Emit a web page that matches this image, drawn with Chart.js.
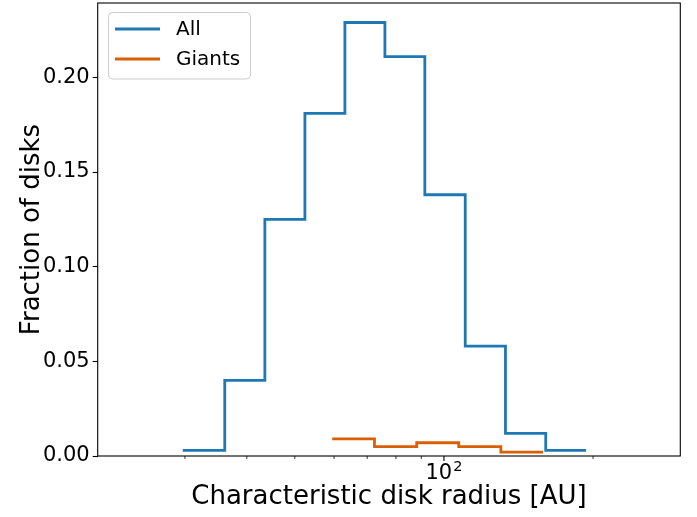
<!DOCTYPE html>
<html lang="en">
<head>
  <meta charset="UTF-8" />
  <title>Characteristic disk radius</title>
  <script src="https://cdn.jsdelivr.net/npm/chart.js"></script>
  <style>
    body { margin: 0; background: #fff; }
    #wrap { width: 697px; height: 517px; }
  </style>
</head>
<body>
  <div id="wrap"><canvas id="radiusChart" width="697" height="517"></canvas></div>
  <script>
    // histogram bin edges (AU) and fractions per bin
    const allEdges = [29.7, 36.1, 43.5, 52.4, 63.1, 76.0, 91.5, 110.4, 133.1, 160.5, 193.6];
    const allFraction = [0.003, 0.040, 0.125, 0.181, 0.229, 0.211, 0.138, 0.058, 0.012, 0.003];
    const giantEdges = [59.5, 72.4, 88.1, 107.1, 130.3, 158.5];
    const giantFraction = [0.009, 0.005, 0.007, 0.005, 0.002];

    const yTicks = [0, 0.05, 0.10, 0.15, 0.20];
    const xMinorTicks = [30, 40, 50, 60, 70, 80, 90, 200];
    const xMajorTicks = [100];

    const FONT = "'DejaVu Sans', sans-serif";

    // step outline: every edge carries the value of the bin it opens, last edge closes the last bin
    function stepPoints(edges, vals) {
      return edges.map((e, i) => ({ x: e, y: vals[Math.min(i, vals.length - 1)] }));
    }

    const decorations = {
      id: 'decorations',
      afterDraw(chart) {
        const ctx = chart.ctx;
        const area = chart.chartArea;
        const xs = chart.scales.x;
        ctx.save();

        // frame
        ctx.strokeStyle = '#000';
        ctx.lineWidth = 1.1;
        ctx.strokeRect(area.left, area.top, area.right - area.left, area.bottom - area.top);

        // x ticks (log axis, minor + major)
        xMinorTicks.forEach(v => {
          const px = xs.getPixelForValue(v);
          ctx.lineWidth = 0.8;
          ctx.beginPath(); ctx.moveTo(px, area.bottom); ctx.lineTo(px, area.bottom + 3); ctx.stroke();
        });
        xMajorTicks.forEach(v => {
          const px = xs.getPixelForValue(v);
          ctx.lineWidth = 1.1;
          ctx.beginPath(); ctx.moveTo(px, area.bottom); ctx.lineTo(px, area.bottom + 5); ctx.stroke();
          // 10^2 label
          const exp = String(Math.round(Math.log10(v)));
          ctx.fillStyle = '#000';
          ctx.textBaseline = 'alphabetic';
          ctx.font = '21px ' + FONT;
          const wBase = ctx.measureText('10').width;
          ctx.font = '14.5px ' + FONT;
          const wExp = ctx.measureText(exp).width;
          const x0 = px - (wBase + wExp + 1) / 2;
          ctx.font = '21px ' + FONT;
          ctx.textAlign = 'left';
          ctx.fillText('10', x0, area.bottom + 23);
          ctx.font = '14.5px ' + FONT;
          ctx.fillText(exp, x0 + wBase + 1, area.bottom + 15);
        });

        // axis titles
        ctx.fillStyle = '#000';
        ctx.font = '26px ' + FONT;
        ctx.textAlign = 'center';
        ctx.textBaseline = 'middle';
        ctx.fillText('Characteristic disk radius [AU]', (area.left + area.right) / 2, 497);
        ctx.save();
        ctx.translate(32, (area.top + area.bottom) / 2);
        ctx.rotate(-Math.PI / 2);
        ctx.fillText('Fraction of disks', 0, 0);
        ctx.restore();

        // legend
        ctx.fillStyle = 'rgba(255,255,255,0.8)';
        ctx.strokeStyle = '#cccccc';
        ctx.lineWidth = 1;
        ctx.beginPath();
        ctx.roundRect(108.5, 12.5, 142, 66.5, 4);
        ctx.fill();
        ctx.stroke();
        chart.data.datasets.forEach((ds, i) => {
          const y = 29 + i * 30;
          ctx.strokeStyle = ds.borderColor;
          ctx.lineWidth = 2.8;
          ctx.beginPath(); ctx.moveTo(115, y); ctx.lineTo(160, y); ctx.stroke();
          ctx.fillStyle = '#000';
          ctx.font = '20px ' + FONT;
          ctx.textAlign = 'left';
          ctx.textBaseline = 'middle';
          ctx.fillText(ds.label, 176, y + 1);
        });

        ctx.restore();
      }
    };

    new Chart(document.getElementById('radiusChart').getContext('2d'), {
      type: 'line',
      data: {
        datasets: [
          {
            label: 'All',
            data: stepPoints(allEdges, allFraction),
            borderColor: '#1f77b4',
            borderWidth: 2.8,
            stepped: true,
            pointRadius: 0,
            fill: false,
            order: 1
          },
          {
            label: 'Giants',
            data: stepPoints(giantEdges, giantFraction),
            borderColor: '#d95f02',
            borderWidth: 2.8,
            stepped: true,
            pointRadius: 0,
            fill: false,
            order: 0
          }
        ]
      },
      options: {
        responsive: false,
        animation: false,
        layout: { padding: { left: 0, right: 16.7, top: 3, bottom: 0 } },
        plugins: { legend: { display: false }, tooltip: { enabled: false } },
        scales: {
          x: {
            type: 'logarithmic',
            min: 20,
            max: 300,
            grid: { display: false },
            border: { display: false },
            ticks: { display: false },
            afterFit(scale) { scale.height = 61; scale.paddingLeft = 0; scale.paddingRight = 0; }
          },
          y: {
            min: 0,
            max: 0.2393,
            afterBuildTicks(scale) { scale.ticks = yTicks.map(v => ({ value: v })); },
            afterFit(scale) { scale.width = 97.7; scale.paddingTop = 0; scale.paddingBottom = 0; },
            grid: { drawOnChartArea: false, tickLength: 5, tickWidth: 1.1, tickColor: '#000' },
            border: { display: false },
            ticks: {
              color: '#000',
              padding: 3,
              font: { family: FONT, size: 21 },
              callback: v => v.toFixed(2)
            }
          }
        }
      },
      plugins: [decorations]
    });
  </script>
</body>
</html>
